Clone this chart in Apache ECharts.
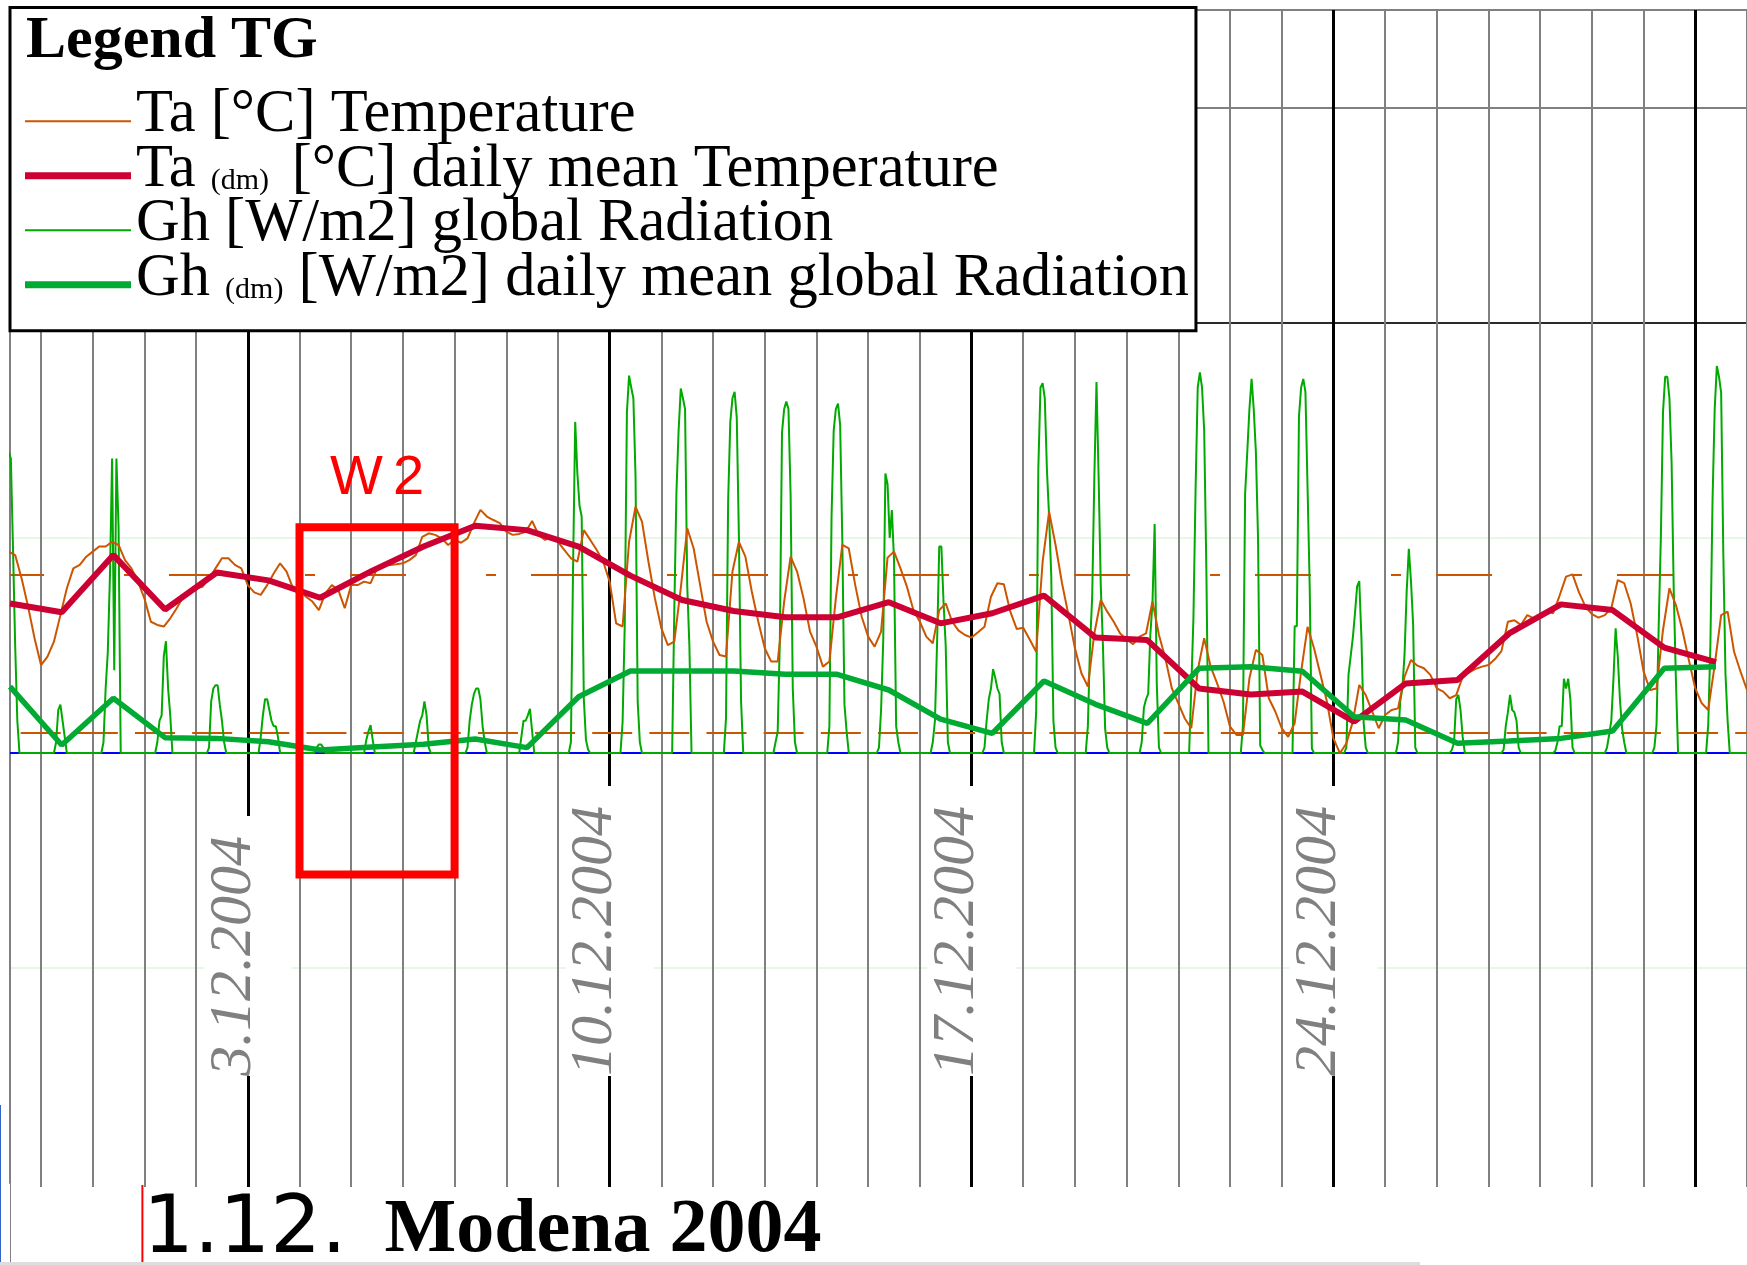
<!DOCTYPE html>
<html><head><meta charset="utf-8">
<script src="https://cdn.jsdelivr.net/npm/echarts@6/dist/echarts.min.js"></script>
<style>html,body{margin:0;padding:0;background:#fff}#c{width:1747px;height:1265px}</style>
</head><body><div id="c"></div>
<script>
// ================= DATA =================
// time unit: days since 1.12.2004 00:00
const TICK_DAYS = [2, 9, 16, 23];
const TICK_LABELS = ['3.12.2004', '10.12.2004', '17.12.2004', '24.12.2004'];

// Ta [°C], 3-hourly, first value at TA_START
const TA_START = -2.625;
const TA_STEP = 0.125;
const TA_3H = [
  5.74, 5.63, 4.89, 4.00, 3.00,
  2.15, 2.42, 2.89, 3.73, 4.58, 5.21, 5.32, 5.58,
  5.74, 5.90, 5.90, 6.05, 5.95, 5.47, 5.21, 4.79,
  4.26, 3.52, 3.42, 3.37, 3.63, 3.95, 4.31, 4.47,
  4.58, 4.63, 4.89, 5.21, 5.53, 5.53, 5.32, 5.21,
  4.68, 4.45, 4.37, 4.68, 5.05, 5.37, 5.11, 4.58,
  4.58, 4.31, 4.16, 3.89, 4.42, 4.68, 4.53, 3.95,
  4.68, 4.68, 4.79, 4.74, 5.21, 5.32, 5.32, 5.34,
  5.37, 5.47, 5.63, 6.21, 6.32, 6.27, 6.16, 5.95,
  6.11, 6.02, 6.16, 6.64, 7.06, 6.85, 6.74, 6.64,
  6.37, 6.27, 6.30, 6.37, 6.71, 6.27, 6.11, 6.21,
  6.05, 5.79, 5.53, 5.42, 6.42, 6.11, 5.79, 5.42,
  4.79, 3.47, 3.37, 6.05, 7.16, 6.69, 5.42, 4.26,
  3.31, 2.78, 2.89, 4.58, 6.48, 5.84, 4.68, 3.52,
  2.89, 2.47, 2.42, 5.11, 6.05, 5.58, 4.47, 3.52,
  2.68, 2.26, 2.26, 4.16, 5.58, 5.11, 4.26, 3.21,
  2.73, 2.10, 2.26, 4.26, 5.95, 5.84, 4.68, 3.68,
  3.05, 2.73, 3.21, 5.55, 5.74, 5.21, 4.63, 3.89,
  3.52, 3.05, 2.84, 3.89, 4.10, 3.52, 3.24, 3.10,
  3.02, 3.19, 3.36, 4.31, 4.74, 4.71, 3.84, 3.29,
  3.33, 2.96, 2.57, 5.42, 7.00, 5.95, 4.74, 3.73,
  2.68, 1.89, 1.47, 3.15, 4.21, 3.84, 3.52, 3.15,
  2.97, 2.81, 3.05, 3.15, 4.16, 3.10, 2.36, 1.41,
  0.94, 0.46, 0.15, 1.99, 3.00, 2.10, 1.57, 0.99,
  0.20, -0.06, -0.06, 1.73, 2.63, 2.47, 1.10, 0.68,
  0.15, -0.12, 0.31, 1.94, 3.36, 2.68, 1.84, 0.99,
  -0.17, -0.64, -0.33, 0.36, 1.52, 1.20, 0.68, 0.15,
  0.57, 0.73, 0.78, 1.78, 2.31, 2.13, 2.05, 1.84,
  1.41, 1.31, 1.10, 1.20, 1.78, 1.92, 2.03, 2.10,
  2.15, 2.34, 2.59, 3.52, 3.57, 3.42, 3.73, 3.63,
  3.68, 3.86, 3.79, 4.35, 4.95, 5.02, 4.45, 4.00,
  3.76, 3.65, 3.73, 3.95, 4.84, 4.74, 4.10, 3.10,
  1.94, 1.36, 1.41, 3.26, 4.58, 4.05, 3.26, 2.31,
  1.41, 0.94, 0.73, 2.15, 3.73, 3.84, 2.57, 1.94,
  1.36
];

// daily values: first day = 28.11. (day index -3), plotted at day + DAILY_OFFSET
const DAY_FIRST = -3;
const DAILY_OFFSET = 0.4;
const TA_DM = [4.10, 3.82, 5.63, 3.91, 5.08, 4.83, 4.28, 5.13, 5.90, 6.56, 6.42, 5.90,
  4.98, 4.21, 3.86, 3.66, 3.66, 4.14, 3.47, 3.79, 4.35, 3.02, 2.94, 1.41, 1.22, 1.31,
  0.36, 1.57, 1.68, 3.15, 4.07, 3.89, 2.70, 2.24];
const GH_DM = [61.7, 7.4, 50.9, 14.3, 13.6, 10.5, 2.8, 5.6, 8.1, 13.0, 5.0, 52.4,
  76.3, 76.3, 76.3, 73.2, 73.2, 58.6, 31.6, 18.3, 67.0, 45.3, 27.6, 78.8, 80.3, 76.0,
  33.8, 30.7, 9.0, 11.2, 13.6, 20.5, 78.8, 80.3];

// Gh [W/m2] hourly, hours 5..16 of each day (0 at night), days 28.11. .. 31.12.
const GH_FIRST_HOUR = 5;
const GH_HOURLY = [
  [0, 0, 0, 0, 280, 274, 190, 100, 30, 0, 0, 0],
  [0, 0, 10, 40, 45, 30, 15, 0, 0, 0, 0, 0],
  [10, 60, 94, 165, 274, 77, 274, 210, 0, 0, 0, 0],
  [0, 10, 30, 35, 90, 104, 60, 35, 0, 0, 0, 0],
  [0, 5, 48, 60, 63, 63, 45, 30, 10, 0, 0, 0],
  [0, 15, 35, 50, 50, 40, 30, 25, 25, 15, 0, 0],
  [0, 0, 0, 5, 8, 8, 5, 0, 0, 0, 0, 0],
  [0, 0, 12, 20, 26, 12, 0, 0, 0, 0, 0, 0],
  [0, 10, 20, 30, 35, 48, 35, 5, 0, 0, 0, 0],
  [0, 5, 30, 45, 55, 60, 60, 50, 25, 10, 0, 0],
  [0, 0, 15, 30, 30, 35, 41, 20, 0, 0, 0, 0],
  [0, 10, 172, 308, 260, 230, 220, 50, 12, 3, 0, 0],
  [0, 29, 120, 317, 351, 340, 330, 258, 48, 10, 0, 0],
  [0, 133, 243, 300, 339, 330, 320, 156, 100, 0, 0, 0],
  [0, 32, 235, 308, 330, 336, 312, 200, 48, 0, 0, 0],
  [10, 20, 105, 298, 320, 327, 320, 240, 60, 10, 0, 0],
  [0, 25, 220, 300, 320, 325, 305, 198, 45, 20, 0, 0],
  [5, 40, 105, 260, 250, 200, 226, 180, 25, 10, 0, 0],
  [0, 10, 30, 103, 192, 192, 140, 100, 10, 0, 0, 0],
  [0, 5, 30, 50, 60, 78, 70, 60, 55, 10, 0, 0],
  [0, 38, 265, 340, 344, 330, 263, 220, 165, 30, 5, 0],
  [0, 25, 100, 145, 256, 345, 256, 155, 100, 23, 5, 0],
  [0, 0, 10, 42, 50, 55, 110, 140, 213, 64, 5, 0],
  [0, 60, 125, 245, 340, 354, 340, 300, 172, 0, 0, 0],
  [0, 26, 241, 280, 320, 348, 320, 280, 200, 7, 3, 0],
  [0, 118, 118, 313, 340, 348, 336, 246, 153, 4, 0, 0],
  [0, 5, 73, 90, 107, 130, 155, 160, 107, 29, 5, 0],
  [0, 10, 48, 60, 91, 150, 190, 160, 120, 5, 0, 0],
  [0, 0, 3, 10, 50, 54, 40, 15, 0, 0, 0, 0],
  [0, 0, 3, 25, 38, 54, 40, 38, 30, 5, 0, 0],
  [0, 0, 2, 10, 25, 25, 69, 60, 69, 50, 5, 0],
  [0, 0, 5, 17, 30, 69, 116, 90, 50, 23, 10, 0],
  [5, 26, 118, 200, 317, 350, 350, 330, 270, 150, 68, 0],
  [0, 26, 100, 235, 320, 360, 350, 335, 186, 74, 30, 0]
];

const TA_REF = [0, 5];           // orange dashed reference levels [°C]
const W2_DAYS = [3, 6];          // 4.12. - 6.12.
const W2_GH = [210, -113];

const LEGEND_TEXT = {
  Ta: ['Ta', '', ' [°C] Temperature'],
  Ta_dm: ['Ta ', '(dm) ', ' [°C] daily mean Temperature'],
  Gh: ['Gh', '', ' [W/m2] global Radiation'],
  Gh_dm: ['Gh ', '(dm)', ' [W/m2] daily mean global Radiation']
};

// ================= BUILD =================
const taData = TA_3H.map((v, i) => [TA_START + i * TA_STEP, v]);
const taDm = TA_DM.map((v, i) => [DAY_FIRST + i + DAILY_OFFSET, v]);
const ghDm = GH_DM.map((v, i) => [DAY_FIRST + i + DAILY_OFFSET, v]);
const ghData = [];
GH_HOURLY.forEach((hours, d) => {
  const day = DAY_FIRST + d;
  for (let h = 0; h < 24; h++) {
    const x = day + h / 24;
    if (x < TA_START - 1e-9) continue;
    const idx = h - GH_FIRST_HOUR;
    ghData.push([x, idx >= 0 && idx < hours.length ? hours[idx] : 0]);
  }
});
ghData.push([31, 0]);

// ================= LAYOUT =================
const W = 1747, H = 1265;
const X_MIN = DAY_FIRST + DAILY_OFFSET, X_MAX = 31;
const PLOT_L = 10, PLOT_T = 10, PLOT_B = 1183, LINES_B = 1187;
const DAY_PX = (W - PLOT_L) / (X_MAX - X_MIN);
const GH_PX = 215 / 200;
const GH_MIN = -400, GH_MAX = GH_MIN + (PLOT_B - PLOT_T) / GH_PX;
const TA_ZERO_Y = 733, TA_PX = 31.6;
const TA_MIN = (TA_ZERO_Y - PLOT_B) / TA_PX, TA_MAX = (TA_ZERO_Y - PLOT_T) / TA_PX;

const C_TA = '#cc5500', C_TADM = '#cc0033', C_GH = '#00aa00', C_GHDM = '#00aa33';
const SERIF = 'Liberation Serif';

const thinIcon = 'path://M0,0h0.1v0.1h-0.1z M0,12h106v2h-106z';
const thickIcon = 'path://M0,0h0.1v0.1h-0.1z M0,12h106v7h-106z';

const chart = echarts.init(document.getElementById('c'), null, {renderer: 'canvas', width: W, height: H});
chart.setOption({
  animation: false,
  backgroundColor: '#ffffff',
  title: [
    {text: 'Legend TG', left: 26, top: 11, padding: 0, z: 8,
     textStyle: {fontFamily: SERIF, fontWeight: 'bold', fontSize: 60, lineHeight: 60, color: '#000'}},
    {text: '{a|1.12.}{b|  Modena 2004}', left: 143, top: 1191, padding: 0,
     textStyle: {fontWeight: 'normal', rich: {
       a: {fontFamily: 'DejaVu Sans', fontWeight: 'normal', fontSize: 80, lineHeight: 80, color: '#000'},
       b: {fontFamily: SERIF, fontWeight: 'bold', fontSize: 76, lineHeight: 80, color: '#000'}
     }}}
  ],
  legend: {
    orient: 'vertical', left: 10, top: 7.5,
    padding: [77.15, 7, 21.5, 15],
    backgroundColor: '#ffffff', borderColor: '#000000', borderWidth: 3, borderRadius: 0,
    itemWidth: 106, itemHeight: 20, itemGap: -6.5,
    itemStyle: {borderWidth: 0},
    selectedMode: false,
    data: [
      {name: 'Ta', icon: thinIcon},
      {name: 'Ta_dm', icon: thickIcon},
      {name: 'Gh', icon: thinIcon},
      {name: 'Gh_dm', icon: thickIcon}
    ],
    formatter: (name) => {
      const t = LEGEND_TEXT[name];
      return t[1] ? `{n|${t[0]}}{s|${t[1]}}{n|${t[2]}}` : `{n|${t[0]}${t[2]}}`;
    },
    textStyle: {
      color: '#000',
      rich: {
        n: {fontFamily: SERIF, fontSize: 60.5, lineHeight: 53.7, color: '#000'},
        s: {fontFamily: SERIF, fontSize: 30, lineHeight: 24, verticalAlign: 'bottom', color: '#000'}
      }
    }
  },
  grid: [
    {left: PLOT_L, right: 0, top: PLOT_T, bottom: H - PLOT_B, outerBoundsMode: 'none'},
    {left: PLOT_L - (X_MIN + 3) * DAY_PX, right: 0, top: PLOT_T, bottom: H - LINES_B, outerBoundsMode: 'none'},
    {left: PLOT_L - (X_MIN + 5) * DAY_PX, right: 0, top: PLOT_T, bottom: H - LINES_B, outerBoundsMode: 'none'}
  ],
  xAxis: [
    {gridIndex: 0, type: 'value', min: X_MIN, max: X_MAX, show: false},
    {gridIndex: 1, type: 'value', min: -3, max: X_MAX, interval: 1, z: 0.5,
     axisLine: {show: false}, axisTick: {show: false}, axisLabel: {show: false},
     splitLine: {show: true, lineStyle: {color: '#808080', width: 2}}},
    {gridIndex: 2, type: 'value', min: -5, max: X_MAX, interval: 7, z: 1,
     axisLine: {show: false, onZero: false}, axisTick: {show: false},
     splitLine: {show: true, showMaxLine: false, lineStyle: {color: '#000000', width: 3}},
     axisLabel: {show: true, inside: true, rotate: 90, margin: 111,
       formatter: (v) => {
         const i = TICK_DAYS.indexOf(Math.round(v));
         return i < 0 ? '' : '{t|' + TICK_LABELS[i] + '}';
       },
       rich: {t: {fontFamily: SERIF, fontStyle: 'italic', fontSize: 60, lineHeight: 40,
                  color: '#808080', backgroundColor: '#ffffff', padding: [0, 20, 28, 0]}}}}
  ],
  yAxis: [
    {gridIndex: 0, type: 'value', min: GH_MIN, max: GH_MAX, interval: 200,
     axisLine: {show: true, onZero: false, lineStyle: {color: '#808080', width: 2}},
     axisTick: {show: false}, axisLabel: {show: false},
     splitLine: {show: true, lineStyle: {width: 2,
       color: ['rgba(0,0,0,0)', '#e6f7e6', 'rgba(0,0,0,0)', '#e6f7e6', '#2a2a2a', '#808080', '#808080']}}},
    {gridIndex: 0, type: 'value', min: TA_MIN, max: TA_MAX, show: false},
    {gridIndex: 1, type: 'value', min: 0, max: 1, show: false},
    {gridIndex: 2, type: 'value', min: 0, max: 1, show: false}
  ],
  series: [
    {name: '_base', type: 'line', xAxisIndex: 0, yAxisIndex: 0, data: [], z: 1, silent: true,
     markLine: {silent: true, z: 1, symbol: ['none', 'none'], label: {show: false},
       lineStyle: {color: '#0000ff', width: 2, type: 'solid'}, data: [{yAxis: 0}]}},
    {name: '_taref', type: 'line', xAxisIndex: 0, yAxisIndex: 1, data: [], z: 1, silent: true,
     markLine: {silent: true, z: 1, symbol: ['none', 'none'], label: {show: false},
       lineStyle: {color: C_TA, width: 2},
       data: [
         {yAxis: TA_REF[0], lineStyle: {color: C_TA, width: 2, type: [40, 17.15], dashOffset: 46.45}},
         {yAxis: TA_REF[1], lineStyle: {color: C_TA, width: 2, type: [56, 80, 10, 35], dashOffset: 22}}
       ]}},
    {name: 'Gh', type: 'line', xAxisIndex: 0, yAxisIndex: 0, data: ghData, z: 2,
     showSymbol: false, symbol: 'none', color: C_GH, lineStyle: {color: C_GH, width: 2}},
    {name: 'Ta', type: 'line', xAxisIndex: 0, yAxisIndex: 1, data: taData, z: 2,
     showSymbol: false, symbol: 'none', color: C_TA, lineStyle: {color: C_TA, width: 2}},
    {name: 'Ta_dm', type: 'line', xAxisIndex: 0, yAxisIndex: 1, data: taDm, z: 3,
     showSymbol: false, symbol: 'none', color: C_TADM, lineStyle: {color: C_TADM, width: 6}},
    {name: 'Gh_dm', type: 'line', xAxisIndex: 0, yAxisIndex: 0, data: ghDm, z: 4,
     showSymbol: false, symbol: 'none', color: C_GHDM, lineStyle: {color: C_GHDM, width: 5.5}},
    {name: '_w2', type: 'line', xAxisIndex: 0, yAxisIndex: 0, data: [], z: 10, silent: true,
     markArea: {silent: true, z: 10,
       itemStyle: {color: 'rgba(0,0,0,0)', borderColor: '#ff0000', borderWidth: 8},
       label: {show: true, position: 'top', distance: 16,
               formatter: (p) => '{w|' + p.name.charAt(0) + '}{g| }{w|' + p.name.slice(1) + '}',
               rich: {
                 w: {color: '#ff0000', fontFamily: 'Liberation Sans', fontSize: 56, lineHeight: 58},
                 g: {fontFamily: 'Liberation Sans', fontSize: 36, lineHeight: 58}
               }},
       data: [[{name: 'W2', xAxis: W2_DAYS[0], yAxis: W2_GH[0]}, {xAxis: W2_DAYS[1], yAxis: W2_GH[1]}]]}}
  ],
  graphic: [
    {type: 'line', silent: true, shape: {x1: 142.4, y1: 1185, x2: 142.4, y2: 1265}, style: {stroke: '#ff0000', lineWidth: 2}},
    {type: 'line', silent: true, shape: {x1: 0.5, y1: 1105, x2: 0.5, y2: 1265}, style: {stroke: '#3366cc', lineWidth: 1}},
    {type: 'line', silent: true, shape: {x1: 10.5, y1: 1183, x2: 10.5, y2: 1265}, style: {stroke: '#808080', lineWidth: 1}},
    {type: 'rect', silent: true, shape: {x: 0, y: 1262, width: 1420, height: 3}, style: {fill: '#dddddd'}}
  ]
});
</script></body></html>
